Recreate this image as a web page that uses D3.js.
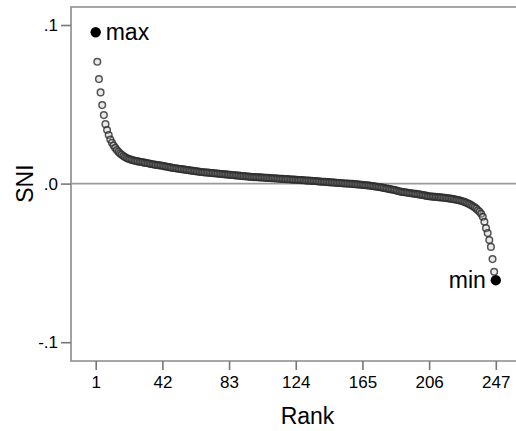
<!DOCTYPE html>
<html>
<head>
<meta charset="utf-8">
<script src="https://cdn.jsdelivr.net/npm/d3@7"></script>
<style>
  body { margin: 0; background: #fff; }
  text { font-family: Arial, "Liberation Sans", sans-serif; }
</style>
</head>
<body>
<div id="chart"></div>
<script>
// SNI values by rank (1..247)
let sni = [
    0.0954, 0.0768, 0.0659, 0.0575, 0.0495, 0.0432, 0.0375, 0.0338, 0.0306, 0.0278,
    0.0258, 0.0240, 0.0225, 0.0212, 0.0200, 0.0190, 0.0182, 0.0174, 0.0167, 0.0161,
    0.0157, 0.0153, 0.0150, 0.0147, 0.0144, 0.0142, 0.0140, 0.0138,
    0.0136, 0.0134, 0.0132, 0.0130, 0.0128, 0.0126, 0.0124, 0.0122, 0.0120, 0.0118,
    0.0117, 0.0115, 0.0114, 0.0112,
    0.0110, 0.0108, 0.0106, 0.0104, 0.0102, 0.0100, 0.0098, 0.0097, 0.0095, 0.0094,
    0.0092, 0.0091, 0.0089, 0.0088, 0.0086, 0.0085, 0.0083, 0.0082, 0.0080, 0.0079,
    0.0077, 0.0076, 0.0074,
    0.0073, 0.0072, 0.0071, 0.0070, 0.0069, 0.0068, 0.0067, 0.0066, 0.0065, 0.0064,
    0.0063, 0.0062, 0.0061, 0.0060, 0.0059, 0.0058, 0.0057, 0.0056, 0.0055, 0.0054,
    0.0053, 0.0052, 0.0051, 0.0050, 0.0049, 0.0048, 0.0047, 0.0046, 0.0045, 0.0044,
    0.0043, 0.0042, 0.0041, 0.0041, 0.0040, 0.0040, 0.0039,
    0.0038, 0.0038, 0.0037, 0.0036, 0.0036, 0.0035, 0.0034, 0.0034, 0.0033, 0.0032,
    0.0032, 0.0031, 0.0030, 0.0030, 0.0029, 0.0028, 0.0028, 0.0027, 0.0026, 0.0026,
    0.0025, 0.0024, 0.0024, 0.0023, 0.0022, 0.0022, 0.0021, 0.0020, 0.0019, 0.0019,
    0.0018, 0.0017, 0.0016, 0.0016, 0.0015, 0.0014, 0.0013, 0.0012, 0.0012, 0.0011,
    0.0010, 0.0009, 0.0008, 0.0008, 0.0007, 0.0006, 0.0005, 0.0004, 0.0004, 0.0003,
    0.0002, 0.0001, 0.0001, 0.0000, -0.0001, -0.0001, -0.0002, -0.0003,
    -0.0004, -0.0005, -0.0006, -0.0007, -0.0008, -0.0009, -0.0010, -0.0011, -0.0012, -0.0014,
    -0.0015, -0.0017, -0.0018, -0.0020, -0.0021, -0.0023, -0.0025, -0.0027, -0.0029, -0.0031,
    -0.0033, -0.0035, -0.0037, -0.0039, -0.0041, -0.0044, -0.0047, -0.0050,
    -0.0052, -0.0053, -0.0055, -0.0056, -0.0058, -0.0059, -0.0061, -0.0062, -0.0064, -0.0065,
    -0.0067, -0.0068, -0.0070, -0.0072, -0.0074, -0.0076, -0.0078, -0.0080,
    -0.0081, -0.0082, -0.0083, -0.0084, -0.0085, -0.0086, -0.0087, -0.0088, -0.0089, -0.0090,
    -0.0092, -0.0093, -0.0095,
    -0.0096, -0.0098, -0.0100, -0.0102, -0.0104, -0.0107, -0.0110, -0.0113, -0.0117, -0.0121,
    -0.0126, -0.0131, -0.0137, -0.0143, -0.0150, -0.0158, -0.0168, -0.0178, -0.0190, -0.0209,
    -0.0241, -0.0281, -0.0312, -0.0356, -0.0399, -0.0476, -0.0556, -0.0609
];
let xTicks = [1, 42, 83, 124, 165, 206, 247];
let yTicks = [0.1, 0, -0.1];
let yTickLabels = [".1", ".0", "-.1"];
let marks = [{label:"max", rank:1}, {label:"min", rank:247}];

let data = sni.map((v, i) => ({rank: i + 1, sni: v}));

let larg = 516;
let alt = 431;
let mEsq = 71, mTopo = 7, mBase = 361, mDir = 530;

let canvas = d3.select("#chart")
                .append("svg")
                .attr("width", larg)
                .attr("height", alt);

var escX = d3.scaleLinear()
                .domain([1, 247])
                .range([95.7, 495.8]);

var escY = d3.scaleLinear()
                .domain([-0.1, 0.1])
                .range([342.2, 25]);

// frame (top, left, bottom)
canvas.append("path")
    .attr("d", `M${mDir},${mTopo}H${mEsq}V${mBase}H${mDir}`)
    .attr("fill", "none")
    .attr("stroke", "#8a8a8a")
    .attr("stroke-width", 1.6);

// zero line
canvas.append("line")
    .attr("x1", mEsq).attr("x2", mDir)
    .attr("y1", escY(0)).attr("y2", escY(0))
    .attr("stroke", "#999")
    .attr("stroke-width", 1.6);

// axes
var eixoX = d3.axisBottom(escX)
                .tickValues(xTicks)
                .tickSize(9)
                .tickPadding(6)
                .tickFormat(d3.format("d"));
var gx = canvas.append("g")
        .attr("transform", `translate(0,${mBase})`)
        .call(eixoX);

var eixoY = d3.axisLeft(escY)
                .tickValues(yTicks)
                .tickSize(10)
                .tickPadding(3)
                .tickFormat((d, i) => yTickLabels[i]);
var gy = canvas.append("g")
        .attr("transform", `translate(${mEsq},0)`)
        .call(eixoY);

[gx, gy].forEach(g => {
    g.select(".domain").remove();
    g.selectAll(".tick line").attr("stroke", "#777").attr("stroke-width", 1.6);
    g.selectAll(".tick text")
        .style("font", "17px Arial, 'Liberation Sans', sans-serif")
        .attr("fill", "#000");
});

// points (hollow rings, they pile up into a dark band)
canvas.append("g")
    .selectAll("circle")
    .data(data.slice(1, -1))
    .enter()
        .append("circle")
        .attr("cx", d => escX(d.rank))
        .attr("cy", d => escY(d.sni))
        .attr("r", 3.3)
        .attr("fill", "#bbb")
        .attr("fill-opacity", 0.3)
        .attr("stroke", "#2a2a2a")
        .attr("stroke-opacity", 0.8)
        .attr("stroke-width", 1.5);

// max / min
let ext = marks.map(m => ({label: m.label, rank: m.rank, sni: sni[m.rank - 1]}));
canvas.append("g")
    .selectAll("circle")
    .data(ext)
    .enter()
        .append("circle")
        .attr("cx", d => escX(d.rank))
        .attr("cy", d => escY(d.sni))
        .attr("r", 5.2)
        .attr("fill", "#000");

canvas.append("g")
    .selectAll("text")
    .data(ext)
    .enter()
        .append("text")
        .attr("x", d => escX(d.rank) + (d.label == "max" ? 10 : -10))
        .attr("y", d => escY(d.sni) + 8)
        .attr("text-anchor", d => d.label == "max" ? "start" : "end")
        .style("font-size", "23px")
        .attr("fill", "#000")
        .text(d => d.label);

// titles
canvas.append("text")
    .attr("x", (mEsq + 516) / 2 + 14)
    .attr("y", 424)
    .attr("text-anchor", "middle")
    .style("font-size", "23px")
    .text("Rank");

canvas.append("text")
    .attr("transform", `translate(33,${escY(0)}) rotate(-90)`)
    .attr("text-anchor", "middle")
    .style("font-size", "23px")
    .text("SNI");
</script>
</body>
</html>
